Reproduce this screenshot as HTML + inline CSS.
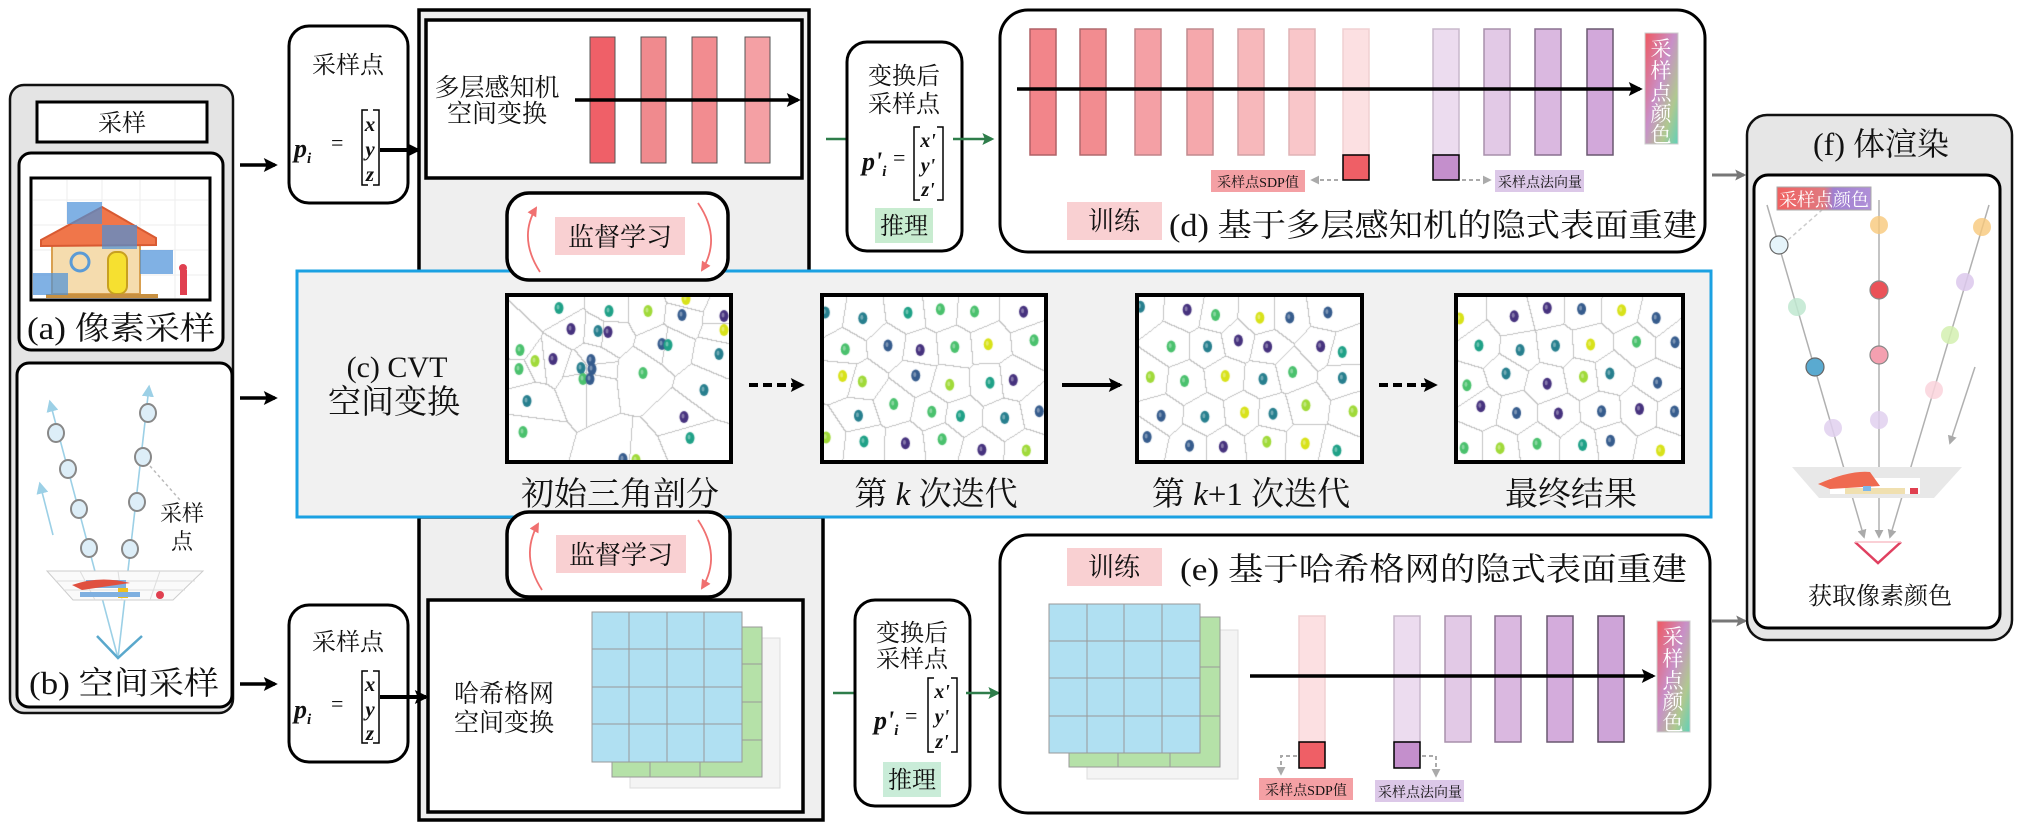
<!DOCTYPE html>
<html><head><meta charset="utf-8">
<style>
html,body{margin:0;padding:0;background:#fff;}
#wrap{position:relative;width:2021px;height:824px;overflow:hidden;}
svg{position:absolute;left:0;top:0;}
canvas{position:absolute;}
text{font-family:"Liberation Serif","Noto Serif CJK SC",serif;fill:#111;}
</style></head><body><div id="wrap">
<svg width="2021" height="824" viewBox="0 0 2021 824" xmlns="http://www.w3.org/2000/svg">
<defs>
<marker id="mk" viewBox="0 0 10 10" refX="8" refY="5" markerUnits="userSpaceOnUse" markerWidth="18" markerHeight="14" orient="auto"><path d="M0,0 L10,5 L0,10 L2,5 z" fill="#000"/></marker>
<marker id="mg" viewBox="0 0 10 10" refX="8" refY="5" markerUnits="userSpaceOnUse" markerWidth="16" markerHeight="12" orient="auto"><path d="M0,0 L10,5 L0,10 L2,5 z" fill="#2e7d4a"/></marker>
<marker id="mgr" viewBox="0 0 10 10" refX="8" refY="5" markerUnits="userSpaceOnUse" markerWidth="14" markerHeight="11" orient="auto"><path d="M0,0 L10,5 L0,10 L2,5 z" fill="#777"/></marker>
<marker id="ms" viewBox="0 0 10 10" refX="8" refY="5" markerUnits="userSpaceOnUse" markerWidth="9" markerHeight="9" orient="auto"><path d="M0,0 L10,5 L0,10 z" fill="#aaa"/></marker>
<marker id="mb" viewBox="0 0 10 10" refX="8" refY="5" markerUnits="userSpaceOnUse" markerWidth="12" markerHeight="12" orient="auto"><path d="M0,0 L10,5 L0,10 z" fill="#9cd0e6"/></marker>
<marker id="mr" viewBox="0 0 10 10" refX="8" refY="5" markerUnits="userSpaceOnUse" markerWidth="12" markerHeight="10" orient="auto"><path d="M0,0 L10,5 L0,10 z" fill="#f07070"/></marker>
<linearGradient id="grad" x1="0" y1="0" x2="1" y2="1">
<stop offset="0" stop-color="#f05860"/><stop offset="0.45" stop-color="#c890c8"/><stop offset="0.75" stop-color="#b0c890"/><stop offset="1" stop-color="#60d0b8"/></linearGradient>
<linearGradient id="gradh" x1="0" y1="0" x2="1" y2="0">
<stop offset="0" stop-color="#f06060"/><stop offset="0.5" stop-color="#e07a80"/><stop offset="0.6" stop-color="#a080d0"/><stop offset="1" stop-color="#b090d8"/></linearGradient>
</defs>

<!-- LEFT PANEL -->
<rect x="10" y="85" width="223" height="628" rx="14" fill="#e4e4e4" stroke="#111" stroke-width="2.5"/>
<rect x="37" y="102" width="170" height="40" fill="#fff" stroke="#000" stroke-width="3"/>
<text x="122" y="131" font-size="24" text-anchor="middle">采样</text>
<rect x="19" y="153" width="204" height="197" rx="12" fill="#fff" stroke="#000" stroke-width="3"/>
<rect x="31" y="178" width="179" height="122" fill="#fff" stroke="#000" stroke-width="3"/>
<g stroke="#eee" stroke-width="1">
<line x1="33" y1="200" x2="208" y2="200"/><line x1="33" y1="225" x2="208" y2="225"/><line x1="33" y1="250" x2="208" y2="250"/><line x1="33" y1="275" x2="208" y2="275"/>
<line x1="67" y1="180" x2="67" y2="298"/><line x1="102" y1="180" x2="102" y2="298"/><line x1="140" y1="180" x2="140" y2="298"/><line x1="175" y1="180" x2="175" y2="298"/></g>
<rect x="52" y="240" width="88" height="54" fill="#f5dcae" stroke="#d9a050" stroke-width="2"/>
<polygon points="41,240 102,207 156,238 156,245 41,246" fill="#f0764a" stroke="#d85a32" stroke-width="2"/>
<rect x="108" y="252" width="19" height="42" rx="8" fill="#f6e030" stroke="#c8a020" stroke-width="2"/>
<circle cx="80" cy="262" r="9" fill="none" stroke="#5b9bd5" stroke-width="3"/>
<rect x="46" y="294" width="112" height="4" fill="#c89040"/>
<rect x="180" y="270" width="7" height="25" fill="#e04050"/><circle cx="183" cy="268" r="4" fill="#e04050"/>
<g fill="#4a90d9" fill-opacity="0.7"><rect x="67" y="202" width="35" height="22"/><rect x="102" y="225" width="35" height="24"/><rect x="102" y="249" width="0" height="0"/><rect x="140" y="250" width="33" height="24"/><rect x="33" y="273" width="35" height="22"/></g>
<text x="121" y="339" font-size="32" text-anchor="middle" textLength="188" lengthAdjust="spacingAndGlyphs">(a) 像素采样</text>

<rect x="17" y="363" width="215" height="344" rx="12" fill="#fff" stroke="#000" stroke-width="3"/>
<g stroke="#9cd0e6" stroke-width="1.6" fill="none">
<line x1="118" y1="658" x2="50" y2="402" marker-end="url(#mb)"/>
<line x1="118" y1="658" x2="149" y2="387" marker-end="url(#mb)"/>
<line x1="53" y1="535" x2="40" y2="484" marker-end="url(#mb)"/>
<polyline points="97,636 118,658 142,636" stroke="#5aa8cc" stroke-width="2.5"/></g>
<line x1="150" y1="466" x2="180" y2="500" stroke="#bbb" stroke-width="1.5" stroke-dasharray="3,3"/>
<polygon points="47,571 203,571 173,600 73,600" fill="#fafafa" stroke="#ccc" stroke-width="1"/>
<g stroke="#ddd" stroke-width="1"><line x1="55" y1="581" x2="195" y2="581"/><line x1="63" y1="590" x2="185" y2="590"/><line x1="80" y1="571" x2="95" y2="600"/><line x1="118" y1="571" x2="122" y2="600"/><line x1="160" y1="571" x2="150" y2="600"/></g>
<rect x="86" y="580" width="40" height="8" fill="#7fb0e0"/><path d="M72,585 Q100,575 130,583 L82,590 z" fill="#e05040"/><rect x="118" y="588" width="10" height="10" fill="#f0c020"/><rect x="80" y="592" width="60" height="5" fill="#7fb0e0"/><circle cx="160" cy="595" r="4" fill="#e04050"/>
<g fill="#ddeef8" stroke="#888" stroke-width="2">
<ellipse cx="56" cy="433" rx="8" ry="9"/><ellipse cx="68" cy="469" rx="8" ry="9"/><ellipse cx="79" cy="509" rx="8" ry="9"/><ellipse cx="89" cy="548" rx="8" ry="9"/>
<ellipse cx="148" cy="413" rx="8" ry="9"/><ellipse cx="143" cy="457" rx="8" ry="9"/><ellipse cx="137" cy="502" rx="8" ry="9"/><ellipse cx="130" cy="549" rx="8" ry="9"/></g>
<text x="182" y="521" font-size="22" text-anchor="middle">采样</text>
<text x="182" y="549" font-size="22" text-anchor="middle">点</text>
<text x="124" y="694" font-size="32" text-anchor="middle" textLength="190" lengthAdjust="spacingAndGlyphs">(b) 空间采样</text>

<g stroke="#000" stroke-width="3.5"><line x1="240" y1="165" x2="275" y2="165" marker-end="url(#mk)"/><line x1="240" y1="398" x2="275" y2="398" marker-end="url(#mk)"/><line x1="240" y1="684" x2="275" y2="684" marker-end="url(#mk)"/></g>

<!-- TOP MLP -->
<rect x="419" y="10" width="390" height="262" fill="#efefef" stroke="#000" stroke-width="3.5"/>
<rect x="426" y="20" width="376" height="158" fill="#fff" stroke="#000" stroke-width="3.5"/>
<text x="497" y="96" font-size="25" text-anchor="middle">多层感知机</text>
<text x="497" y="122" font-size="25" text-anchor="middle">空间变换</text>
<g stroke="#555" stroke-width="1"><rect x="590" y="37" width="25" height="126" fill="#ef6068"/><rect x="641" y="37" width="25" height="126" fill="#f08a8e"/><rect x="692" y="37" width="25" height="126" fill="#f28c90"/><rect x="745" y="37" width="25" height="126" fill="#f4a0a4"/></g>
<line x1="575" y1="100" x2="798" y2="100" stroke="#000" stroke-width="3.5" marker-end="url(#mk)"/>

<!-- bottom hash outer -->
<rect x="419" y="517" width="404" height="303" fill="#efefef" stroke="#000" stroke-width="3.5"/>
<rect x="428" y="600" width="375" height="212" fill="#fff" stroke="#000" stroke-width="3.5"/>
<text x="504" y="702" font-size="25" text-anchor="middle">哈希格网</text>
<text x="504" y="731" font-size="25" text-anchor="middle">空间变换</text>
<rect x="630" y="638" width="150" height="150" fill="#f4f4f4" stroke="#ddd"/>
<rect x="612" y="627" width="150" height="150" fill="#b5e1a8" stroke="#999"/>
<g stroke="#999"><line x1="612" y1="664" x2="762" y2="664"/><line x1="612" y1="702" x2="762" y2="702"/><line x1="612" y1="740" x2="762" y2="740"/><line x1="650" y1="627" x2="650" y2="777"/><line x1="700" y1="627" x2="700" y2="777"/></g>
<rect x="592" y="612" width="150" height="150" fill="#b0e0f2" stroke="#999"/>
<g stroke="#999"><line x1="592" y1="649" x2="742" y2="649"/><line x1="592" y1="687" x2="742" y2="687"/><line x1="592" y1="724" x2="742" y2="724"/><line x1="629" y1="612" x2="629" y2="762"/><line x1="667" y1="612" x2="667" y2="762"/><line x1="704" y1="612" x2="704" y2="762"/></g>

<!-- CVT box -->
<rect x="297" y="271" width="1414" height="246" fill="#f1f1f1" stroke="#1ba1e2" stroke-width="3"/>
<text x="397" y="377" font-size="30" text-anchor="middle">(c) CVT</text>
<text x="394" y="413" font-size="33" text-anchor="middle">空间变换</text>
<g fill="#fff" stroke="#000" stroke-width="4">
<rect x="507" y="295" width="224" height="167"/><rect x="822" y="295" width="224" height="167"/><rect x="1137" y="295" width="225" height="167"/><rect x="1456" y="295" width="227" height="167"/></g>
<text x="620" y="505" font-size="33" text-anchor="middle">初始三角剖分</text>
<text x="936" y="505" font-size="33" text-anchor="middle">第 <tspan font-style="italic">k</tspan> 次迭代</text>
<text x="1251" y="505" font-size="33" text-anchor="middle">第 <tspan font-style="italic">k</tspan>+1 次迭代</text>
<text x="1571" y="505" font-size="33" text-anchor="middle">最终结果</text>
<g stroke="#000" stroke-width="4"><line x1="749" y1="385" x2="802" y2="385" stroke-dasharray="9,5" marker-end="url(#mk)"/><line x1="1062" y1="385" x2="1120" y2="385" marker-end="url(#mk)"/><line x1="1379" y1="385" x2="1435" y2="385" stroke-dasharray="9,5" marker-end="url(#mk)"/></g>

<!-- supervised boxes -->
<g>
<rect x="507" y="193" width="221" height="87" rx="22" fill="#fff" stroke="#000" stroke-width="3.5"/>
<rect x="555" y="217" width="130" height="38" fill="#f9d0d2"/>
<text x="620" y="246" font-size="26" text-anchor="middle">监督学习</text>
<path d="M540,272 Q518,238 536,208" fill="none" stroke="#f07070" stroke-width="1.8" marker-end="url(#mr)"/>
<path d="M698,203 Q722,238 702,270" fill="none" stroke="#f07070" stroke-width="1.8" marker-end="url(#mr)"/>
</g>
<g>
<rect x="507" y="512" width="223" height="85" rx="22" fill="#fff" stroke="#000" stroke-width="3.5"/>
<rect x="556" y="535" width="130" height="38" fill="#f9d0d2"/>
<text x="621" y="564" font-size="26" text-anchor="middle">监督学习</text>
<path d="M542,590 Q520,556 538,524" fill="none" stroke="#f07070" stroke-width="1.8" marker-end="url(#mr)"/>
<path d="M698,520 Q722,556 702,588" fill="none" stroke="#f07070" stroke-width="1.8" marker-end="url(#mr)"/>
</g>

<!-- sample point boxes -->
<g>
<rect x="289" y="26" width="119" height="177" rx="20" fill="#fff" stroke="#000" stroke-width="3"/>
<text x="348" y="73" font-size="24" text-anchor="middle">采样点</text>
<text x="294" y="157" font-size="26" font-weight="bold" font-style="italic">p<tspan font-size="15" dy="6">i</tspan></text>
<text x="331" y="150" font-size="22">=</text>
<path d="M368,110 L362,110 L362,185 L368,185 M373,110 L379,110 L379,185 L373,185" fill="none" stroke="#000" stroke-width="1.5"/>
<g font-size="21" font-style="italic" font-weight="bold" text-anchor="middle"><text x="370" y="131">x</text><text x="370" y="156">y</text><text x="370" y="181">z</text></g>
<line x1="380" y1="150" x2="418" y2="150" stroke="#000" stroke-width="4" marker-end="url(#mk)"/>
</g>
<g>
<rect x="289" y="605" width="119" height="157" rx="20" fill="#fff" stroke="#000" stroke-width="3"/>
<text x="348" y="650" font-size="24" text-anchor="middle">采样点</text>
<text x="294" y="718" font-size="26" font-weight="bold" font-style="italic">p<tspan font-size="15" dy="6">i</tspan></text>
<text x="331" y="711" font-size="22">=</text>
<path d="M368,671 L362,671 L362,743 L368,743 M373,671 L379,671 L379,743 L373,743" fill="none" stroke="#000" stroke-width="1.5"/>
<g font-size="21" font-style="italic" font-weight="bold" text-anchor="middle"><text x="370" y="691">x</text><text x="370" y="716">y</text><text x="370" y="740">z</text></g>
<line x1="380" y1="697" x2="426" y2="697" stroke="#000" stroke-width="4" marker-end="url(#mk)"/>
</g>

<!-- transformed boxes -->
<line x1="826" y1="139" x2="850" y2="139" stroke="#2e7d4a" stroke-width="2.5"/>
<rect x="847" y="42" width="115" height="209" rx="20" fill="#fff" stroke="#000" stroke-width="3"/>
<text x="904" y="84" font-size="24" text-anchor="middle">变换后</text>
<text x="904" y="112" font-size="24" text-anchor="middle">采样点</text>
<text x="862" y="170" font-size="26" font-weight="bold" font-style="italic">p'<tspan font-size="15" dy="6">i</tspan></text>
<text x="893" y="165" font-size="22">=</text>
<path d="M920,127 L914,127 L914,200 L920,200 M937,127 L943,127 L943,200 L937,200" fill="none" stroke="#000" stroke-width="1.5"/>
<g font-size="20" font-style="italic" font-weight="bold" text-anchor="middle"><text x="928" y="147">x'</text><text x="928" y="172">y'</text><text x="928" y="196">z'</text></g>
<rect x="875" y="208" width="58" height="35" fill="#c8ecd0"/>
<text x="904" y="234" font-size="24" text-anchor="middle">推理</text>
<line x1="953" y1="139" x2="992" y2="139" stroke="#2e7d4a" stroke-width="2.5" marker-end="url(#mg)"/>

<line x1="833" y1="693" x2="858" y2="693" stroke="#2e7d4a" stroke-width="2.5"/>
<rect x="855" y="600" width="115" height="206" rx="20" fill="#fff" stroke="#000" stroke-width="3"/>
<text x="912" y="641" font-size="24" text-anchor="middle">变换后</text>
<text x="912" y="667" font-size="24" text-anchor="middle">采样点</text>
<text x="874" y="729" font-size="26" font-weight="bold" font-style="italic">p'<tspan font-size="15" dy="6">i</tspan></text>
<text x="905" y="723" font-size="22">=</text>
<path d="M934,678 L928,678 L928,752 L934,752 M951,678 L957,678 L957,752 L951,752" fill="none" stroke="#000" stroke-width="1.5"/>
<g font-size="20" font-style="italic" font-weight="bold" text-anchor="middle"><text x="942" y="698">x'</text><text x="942" y="723">y'</text><text x="942" y="748">z'</text></g>
<rect x="883" y="762" width="58" height="35" fill="#c9ecd8"/>
<text x="912" y="788" font-size="24" text-anchor="middle">推理</text>
<line x1="966" y1="693" x2="998" y2="693" stroke="#2e7d4a" stroke-width="2.5" marker-end="url(#mg)"/>

<!-- (d) -->
<rect x="1000" y="10" width="705" height="242" rx="28" fill="#fff" stroke="#000" stroke-width="3"/>
<g stroke-width="1.5">
<rect x="1030" y="29" width="26" height="126" fill="#f2858a" stroke="#b06066"/>
<rect x="1080" y="29" width="26" height="126" fill="#f28c90" stroke="#b06a6e"/>
<rect x="1135" y="29" width="26" height="126" fill="#f4a0a5" stroke="#c08488"/>
<rect x="1187" y="29" width="26" height="126" fill="#f5a8ac" stroke="#c08a8e"/>
<rect x="1238" y="29" width="26" height="126" fill="#f7b8bb" stroke="#d0a0a4"/>
<rect x="1289" y="29" width="26" height="126" fill="#f9c6c9" stroke="#e0b4b6"/>
<rect x="1343" y="29" width="26" height="126" fill="#fce0e2" stroke="#f0d0d2"/>
<rect x="1433" y="29" width="26" height="126" fill="#ecdcef" stroke="#c8b8cc"/>
<rect x="1484" y="29" width="26" height="126" fill="#e2c9e6" stroke="#a890ac"/>
<rect x="1535" y="29" width="26" height="126" fill="#dab8e0" stroke="#8a7090"/>
<rect x="1587" y="29" width="26" height="126" fill="#d2a8da" stroke="#6a5870"/></g>
<rect x="1343" y="155" width="26" height="25" fill="#ef5f66" stroke="#000" stroke-width="1.5"/>
<rect x="1433" y="155" width="26" height="25" fill="#c48fcc" stroke="#000" stroke-width="1.5"/>
<rect x="1645" y="33" width="33" height="111" fill="url(#grad)" stroke="#ccc"/>
<g font-size="21" fill="#fff" text-anchor="middle" style="fill:#fff"><text x="1661" y="56" style="fill:#fff">采</text><text x="1661" y="78" style="fill:#fff">样</text><text x="1661" y="100" style="fill:#fff">点</text><text x="1661" y="121" style="fill:#fff">颜</text><text x="1661" y="142" style="fill:#fff">色</text></g>
<line x1="1017" y1="89" x2="1640" y2="89" stroke="#000" stroke-width="3.5" marker-end="url(#mk)"/>
<rect x="1211" y="170" width="94" height="22" fill="#f4a0a4"/>
<text x="1258" y="187" font-size="14" text-anchor="middle">采样点SDP值</text>
<line x1="1338" y1="180" x2="1312" y2="180" stroke="#aaa" stroke-width="2" stroke-dasharray="4,3" marker-end="url(#ms)"/>
<line x1="1462" y1="180" x2="1490" y2="180" stroke="#aaa" stroke-width="2" stroke-dasharray="4,3" marker-end="url(#ms)"/>
<rect x="1495" y="170" width="89" height="22" fill="#dcc8e8"/>
<text x="1540" y="187" font-size="14" text-anchor="middle">采样点法向量</text>
<rect x="1067" y="202" width="95" height="38" fill="#f9d0d2"/>
<text x="1114" y="230" font-size="26" text-anchor="middle">训练</text>
<text x="1169" y="236" font-size="32" textLength="528" lengthAdjust="spacingAndGlyphs">(d) 基于多层感知机的隐式表面重建</text>
<line x1="1712" y1="175" x2="1744" y2="175" stroke="#777" stroke-width="3" marker-end="url(#mgr)"/>

<!-- (e) -->
<rect x="1000" y="535" width="710" height="278" rx="28" fill="#fff" stroke="#000" stroke-width="3"/>
<rect x="1067" y="548" width="95" height="38" fill="#f9d0d2"/>
<text x="1114" y="576" font-size="26" text-anchor="middle">训练</text>
<text x="1180" y="580" font-size="32" textLength="507" lengthAdjust="spacingAndGlyphs">(e) 基于哈希格网的隐式表面重建</text>
<rect x="1087" y="630" width="151" height="149" fill="#f4f4f4" stroke="#ddd"/>
<rect x="1069" y="617" width="151" height="150" fill="#b5e1a8" stroke="#999"/>
<g stroke="#999"><line x1="1069" y1="667" x2="1220" y2="667"/><line x1="1069" y1="716" x2="1220" y2="716"/><line x1="1118" y1="617" x2="1118" y2="767"/><line x1="1170" y1="617" x2="1170" y2="767"/></g>
<rect x="1049" y="604" width="151" height="149" fill="#b0e0f2" stroke="#999"/>
<g stroke="#999"><line x1="1049" y1="641" x2="1200" y2="641"/><line x1="1049" y1="678" x2="1200" y2="678"/><line x1="1049" y1="716" x2="1200" y2="716"/><line x1="1087" y1="604" x2="1087" y2="753"/><line x1="1124" y1="604" x2="1124" y2="753"/><line x1="1162" y1="604" x2="1162" y2="753"/></g>
<g stroke-width="1.5">
<rect x="1299" y="616" width="26" height="126" fill="#fce0e2" stroke="#f0d0d2"/>
<rect x="1394" y="616" width="26" height="126" fill="#ecdcef" stroke="#c8b8cc"/>
<rect x="1445" y="616" width="26" height="126" fill="#e2c9e6" stroke="#a890ac"/>
<rect x="1495" y="616" width="26" height="126" fill="#dab8e0" stroke="#8a7090"/>
<rect x="1547" y="616" width="26" height="126" fill="#d4acdc" stroke="#6a5870"/>
<rect x="1598" y="616" width="26" height="126" fill="#cea4d8" stroke="#5a4860"/></g>
<rect x="1299" y="742" width="26" height="26" fill="#ef5f66" stroke="#000" stroke-width="1.5"/>
<rect x="1394" y="742" width="26" height="26" fill="#c48fcc" stroke="#000" stroke-width="1.5"/>
<polyline points="1297,756 1281,756 1281,774" fill="none" stroke="#aaa" stroke-width="2" stroke-dasharray="4,3" marker-end="url(#ms)"/>
<polyline points="1422,756 1436,756 1436,776" fill="none" stroke="#aaa" stroke-width="2" stroke-dasharray="4,3" marker-end="url(#ms)"/>
<rect x="1259" y="778" width="94" height="22" fill="#f4a0a4"/>
<text x="1306" y="795" font-size="14" text-anchor="middle">采样点SDP值</text>
<rect x="1375" y="780" width="89" height="22" fill="#dcc8e8"/>
<text x="1420" y="797" font-size="14" text-anchor="middle">采样点法向量</text>
<rect x="1657" y="621" width="33" height="111" fill="url(#grad)" stroke="#ccc"/>
<g font-size="21" text-anchor="middle"><text x="1673" y="644" style="fill:#fff">采</text><text x="1673" y="666" style="fill:#fff">样</text><text x="1673" y="688" style="fill:#fff">点</text><text x="1673" y="709" style="fill:#fff">颜</text><text x="1673" y="730" style="fill:#fff">色</text></g>
<line x1="1250" y1="676" x2="1653" y2="676" stroke="#000" stroke-width="3.5" marker-end="url(#mk)"/>
<line x1="1712" y1="621" x2="1745" y2="621" stroke="#777" stroke-width="3" marker-end="url(#mgr)"/>

<!-- (f) -->
<rect x="1747" y="115" width="265" height="525" rx="20" fill="#e6e6e6" stroke="#111" stroke-width="2.5"/>
<text x="1881" y="155" font-size="32" text-anchor="middle">(f) 体渲染</text>
<rect x="1754" y="175" width="246" height="453" rx="14" fill="#fff" stroke="#000" stroke-width="3"/>
<g stroke="#b0b0b0" stroke-width="1.5">
<line x1="1767" y1="205" x2="1864" y2="537" marker-end="url(#ms)"/>
<line x1="1879" y1="200" x2="1879" y2="537" marker-end="url(#ms)"/>
<line x1="1989" y1="205" x2="1890" y2="537" marker-end="url(#ms)"/>
<line x1="1975" y1="367" x2="1950" y2="443" marker-end="url(#ms)"/></g>
<line x1="1788" y1="240" x2="1822" y2="210" stroke="#ccc" stroke-width="1.5" stroke-dasharray="4,3"/>
<polygon points="1792,467 1962,467 1934,498 1819,498" fill="#e8e8e8"/>
<rect x="1830" y="478" width="90" height="16" fill="#fff"/>
<path d="M1818,484 Q1850,470 1870,472 L1880,486 L1830,489 z" fill="#ef6a50"/>
<rect x="1845" y="488" width="60" height="6" fill="#f0e0b0"/><rect x="1863" y="486" width="8" height="5" fill="#7fb8e8"/><rect x="1910" y="488" width="8" height="6" fill="#e04050"/>
<polyline points="1855,542 1878,563 1901,542" fill="none" stroke="#e04060" stroke-width="2.5"/>
<line x1="1855" y1="542" x2="1901" y2="542" stroke="#f8c0c8" stroke-width="1.5"/>
<g stroke-width="1.2">
<circle cx="1779" cy="245" r="9" fill="#e6f4fa" stroke="#666"/>
<circle cx="1879" cy="225" r="9" fill="#f7c87a" fill-opacity="0.8"/>
<circle cx="1982" cy="227" r="9" fill="#f7c87a" fill-opacity="0.8"/>
<circle cx="1965" cy="282" r="9" fill="#dcc8ec" fill-opacity="0.85"/>
<circle cx="1879" cy="290" r="9" fill="#ea5258" stroke="#888"/>
<circle cx="1797" cy="307" r="9" fill="#bfe8d0" fill-opacity="0.85"/>
<circle cx="1950" cy="335" r="9" fill="#d4f0b0" fill-opacity="0.85"/>
<circle cx="1879" cy="355" r="9" fill="#f4a0b0" stroke="#888"/>
<circle cx="1815" cy="367" r="9" fill="#5aaad0" stroke="#666"/>
<circle cx="1934" cy="390" r="9" fill="#fad4dc" fill-opacity="0.85"/>
<circle cx="1879" cy="420" r="9" fill="#e0d0ee" fill-opacity="0.85"/>
<circle cx="1833" cy="428" r="9" fill="#e0d0ee" fill-opacity="0.85"/></g>
<rect x="1777" y="187" width="94" height="23" fill="url(#gradh)" stroke="#aaa"/>
<text x="1824" y="206" font-size="18" text-anchor="middle" style="fill:#fff">采样点颜色</text>
<text x="1880" y="604" font-size="24" text-anchor="middle">获取像素颜色</text>
</svg>
<canvas id="c1" style="left:509px;top:297px" width="220" height="163"></canvas>
<canvas id="c2" style="left:824px;top:297px" width="220" height="163"></canvas>
<canvas id="c3" style="left:1139px;top:297px" width="221" height="163"></canvas>
<canvas id="c4" style="left:1458px;top:297px" width="223" height="163"></canvas>
</div>
<script>
(function(){
var P=['#46327e','#365c8d','#277f8e','#1fa187','#4ac16d','#a0da39','#d8e219'];
var seed=7;function rnd(){seed=(seed*16807)%2147483647;return (seed-1)/2147483646;}
function draw(id,pts){
 var c=document.getElementById(id),ctx=c.getContext('2d'),W=c.width,H=c.height;
 var lab=new Int16Array(W*H);
 for(var y=0;y<H;y++)for(var x=0;x<W;x++){var b=0,bd=1e9;for(var k=0;k<pts.length;k++){var dx=x-pts[k][0],dy=y-pts[k][1],d=dx*dx+dy*dy;if(d<bd){bd=d;b=k;}}lab[y*W+x]=b;}
 var img=ctx.createImageData(W,H),D=img.data;
 for(var y=0;y<H;y++)for(var x=0;x<W;x++){var i=y*W+x,e=false;if(x<W-1&&lab[i]!=lab[i+1])e=true;if(y<H-1&&lab[i]!=lab[i+W])e=true;var v=e?195:255;D[i*4]=v;D[i*4+1]=v;D[i*4+2]=v;D[i*4+3]=255;}
 ctx.putImageData(img,0,0);
 for(var k=0;k<pts.length;k++){var p=pts[k];ctx.fillStyle=P[p[2]];ctx.beginPath();ctx.ellipse(p[0],p[1],4.5,6,0,0,6.3);ctx.fill();ctx.fillStyle='rgba(255,255,255,0.35)';ctx.beginPath();ctx.ellipse(p[0]-1,p[1]-1,1.5,2.5,0,0,6.3);ctx.fill();}
}
var p1=[[50,11,3],[100,14,3],[139,14,5],[177,2,6],[173,18,1],[215,19,0],[215,33,6],[62,32,0],[89,34,2],[99,35,0],[153,47,1],[159,48,3],[210,57,2],[11,53,4],[26,64,5],[44,62,0],[10,72,4],[82,63,1],[72,71,2],[83,72,1],[74,82,4],[81,82,1],[134,76,4],[195,93,2],[18,104,2],[175,120,0],[14,135,4],[181,141,3],[114,162,1],[127,163,5]];
draw('c1',p1);
function grid(id,s){seed=s;var pts=[];var W=document.getElementById(id).width;for(var r=0;r<5;r++)for(var q=0;q<6;q++){var x=(q+0.5)*W/6+(rnd()-0.5)*18+(r%2?8:-8);var y=(r+0.5)*163/5+(rnd()-0.5)*14;pts.push([x,y,Math.floor(rnd()*7)]);}draw(id,pts);}
grid('c2',11);grid('c3',23);grid('c4',37);
})();
</script>
</body></html>
